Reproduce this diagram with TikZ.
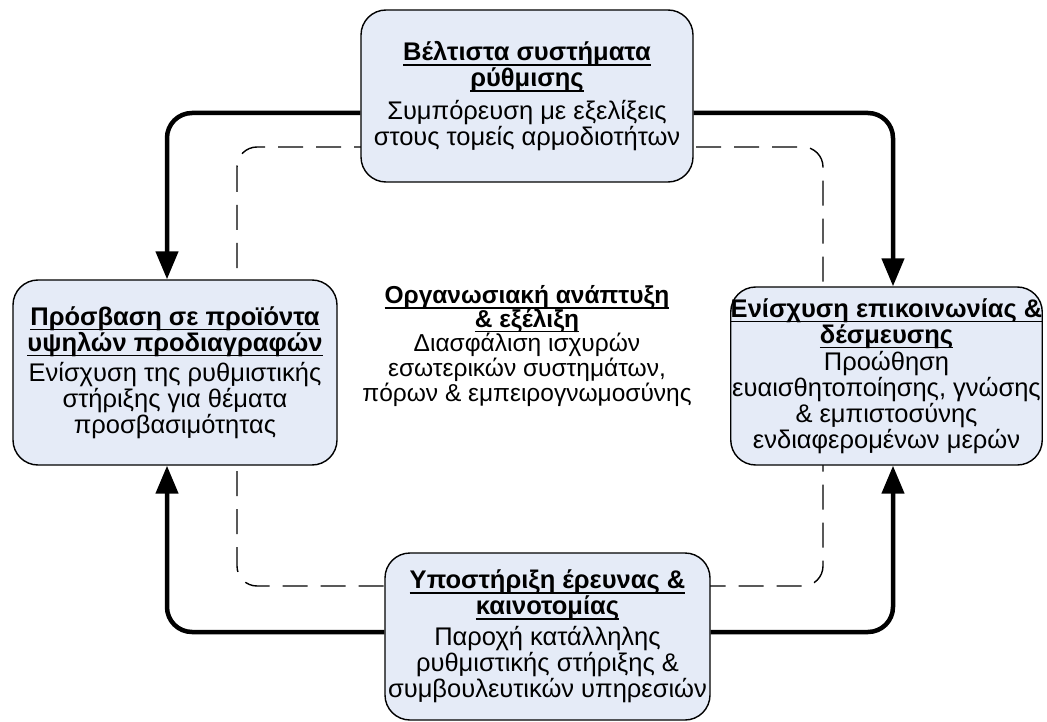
\documentclass[tikz,border=0pt]{standalone}
\usepackage{fontspec}
\setmainfont{Liberation Sans}
\usepackage{tikz}
\usetikzlibrary{arrows.meta}
\definecolor{boxfill}{RGB}{229,235,247}
% bold title line, underlined at a fixed depth
\newcommand{\hd}[1]{\textbf{\setbox0\hbox{#1}\rlap{\rule[-0.2em]{\wd0}{1.4pt}}\box0}}

\begin{document}
\begin{tikzpicture}[x=1pt, y=-1pt, >={Triangle[width=22pt,length=28pt]},
    area/.style={draw=black, line width=1.4pt, fill=boxfill, rounded corners=25pt,
        align=center, inner sep=0pt, font=\fontsize{25.5}{26}\selectfont},
    flow/.style={->, line width=4.5pt, rounded corners=25pt},
    frame/.style={line width=1.4pt, dash pattern=on 25pt off 13pt, rounded corners=20pt}]
    \useasboundingbox (0,0) rectangle (1047,722);
    % dashed frame behind the boxes
    \draw[frame] (237,147) rectangle (823,586);
    \node[area, minimum width=332pt, minimum height=172pt] (reg) at (527,96)
        {\hd{Βέλτιστα συστήματα}\\ \hd{ρύθμισης}\\[7pt] Συμπόρευση με εξελίξεις\\ στους τομείς αρμοδιοτήτων};
    \node[area, minimum width=324pt, minimum height=185pt] (acc) at (175,372.5)
        {\hd{Πρόσβαση σε προϊόντα}\\ \hd{υψηλών προδιαγραφών}\\[4pt] Ενίσχυση της ρυθμιστικής\\ στήριξης για θέματα\\ προσβασιμότητας};
    \node[area, minimum width=307pt, minimum height=178pt] (com) at (886.5,376)
        {\hd{Ενίσχυση επικοινωνίας \&}\\ \hd{δέσμευσης}\\[1pt] Προώθηση\\ ευαισθητοποίησης, γνώσης\\ \& εμπιστοσύνης\\ ενδιαφερομένων μερών};
    \node[area, minimum width=325pt, minimum height=167pt] (res) at (547.5,636.5)
        {\hd{Υποστήριξη έρευνας \&}\\ \hd{καινοτομίας}\\[5pt] Παροχή κατάλληλης\\ ρυθμιστικής στήριξης \&\\ συμβουλευτικών υπηρεσιών};
    \node[align=center, font=\fontsize{24.5}{23.5}\selectfont] (org) at (527,346)
        {\hd{Οργανωσιακή ανάπτυξη}\\ \hd{\& εξέλιξη}\\ Διασφάλιση ισχυρών\\ εσωτερικών συστημάτων,\\ πόρων \& εμπειρογνωμοσύνης};
    % arrows round the cycle
    \draw[flow] ([yshift=-17pt]reg.west) -| ([xshift=-8pt]acc.north);
    \draw[flow] ([yshift=-17pt]reg.east) -| ([xshift=6.5pt]com.north);
    \draw[flow] ([yshift=4.5pt]res.west) -| ([xshift=-8pt]acc.south);
    \draw[flow] ([yshift=4.5pt]res.east) -| ([xshift=6.5pt]com.south);
\end{tikzpicture}
\end{document}
